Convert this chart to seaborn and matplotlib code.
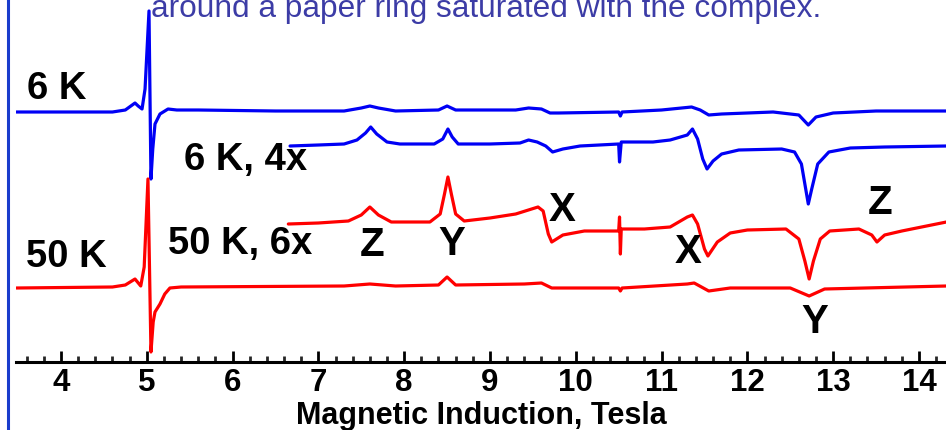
import numpy as np
import pandas as pd
import matplotlib
matplotlib.use("Agg")
import matplotlib.pyplot as plt
import seaborn as sns
from matplotlib.lines import Line2D

# field (Tesla) and signal (arb. units, relative to each baseline)
b_6k = [3.48, 4.6, 4.75, 4.863, 4.9, 4.945, 4.98, 5.026, 5.049, 5.07, 5.096, 5.154, 5.248, 5.35,
        5.6, 6.5, 7.3, 7.5, 7.6, 7.7, 7.9, 8.4, 8.5, 8.6, 9.3, 9.45, 9.6, 9.7, 9.8, 10.5, 10.52,
        10.54, 11.0, 11.35, 11.45, 11.55, 11.7, 12.3, 12.6, 12.71, 12.8, 13.0, 13.5, 14.32]
s_6k = [0, 0, 2, 9, 6, 3, 23, 101, -67, -37, -12, -2, 3, 2,
        2, 1, 1, 4, 6, 4, 1, 2, 6, 2, 2, 4, 3, -1, -1, 0, -4,
        0, 2, 5, 2, -3, -2, 0, -3, -13, -5, -1, 1, 1]

b_6k4x = [6.67, 7.0, 7.3, 7.45, 7.55, 7.61, 7.68, 7.8, 7.95, 8.35, 8.45, 8.51, 8.56, 8.63, 9.0,
          9.35, 9.45, 9.55, 9.65, 9.73, 9.85, 10.05, 10.5, 10.51, 10.53, 10.9, 11.1, 11.3, 11.36,
          11.42, 11.48, 11.53, 11.6, 11.7, 11.9, 12.4, 12.55, 12.63, 12.68, 12.71, 12.75, 12.82,
          12.95, 13.2, 13.6, 14.32]
s_6k4x = [0, 1, 2, 6, 13, 19, 12, 4, 2, 2, 7, 17, 9, 2, 2,
          3, 6, 4, 0, -6, -3, 0, 2, -16, 4, 4, 6, 11, 17,
          7, -13, -23, -15, -8, -4, -3, -6, -18, -43, -58, -43, -18,
          -6, -2, -1, 0]

b_50k6x = [6.65, 7.0, 7.35, 7.5, 7.6, 7.7, 7.85, 8.3, 8.42, 8.47, 8.51, 8.55, 8.6, 8.7, 9.0,
           9.3, 9.56, 9.62, 9.68, 9.72, 9.85, 10.1, 10.5, 10.51, 10.52, 10.53, 10.8, 11.1, 11.3,
           11.36, 11.42, 11.5, 11.54, 11.65, 11.8, 12.0, 12.45, 12.6, 12.67, 12.72, 12.77, 12.85,
           12.96, 13.3, 13.45, 13.51, 13.6, 13.8, 14.32]
s_50k6x = [0, 1, 3, 9, 17, 9, 2, 2, 10, 30, 47, 30, 10, 3, 6,
           10, 17, 13, -10, -18, -11, -7, -7, 7, -30, -5, -5, -3, 7,
           9, 0, -25, -32, -18, -9, -6, -5, -15, -37, -55, -37, -15,
           -7, -5, -11, -18, -11, -7, 2]

b_50k = [3.48, 4.6, 4.75, 4.863, 4.93, 4.97, 5.014, 5.049, 5.075, 5.096, 5.154, 5.21, 5.27,
         5.4, 7.3, 7.6, 7.9, 8.4, 8.5, 8.6, 9.4, 9.6, 9.72, 10.5, 10.52, 10.54, 11.3, 11.38,
         11.55, 11.8, 12.5, 12.72, 12.9, 14.32]
s_50k = [-1, 0, 2, 8, 1, 20, 108, -65, -35, -25, -17, -7, -1,
         0, 1, 3, 1, 2, 10, 2, 3, 4, -1, -1, -4, -1, 3, 4,
         -4, -1, -1, -9, -2, 1]

offsets = {"6 K": 250, "6 K, 4x": 216, "50 K, 6x": 138, "50 K": 75}

traces = pd.concat([
    pd.DataFrame({"B": b_6k, "y": np.array(s_6k) + offsets["6 K"], "trace": "6 K"}),
    pd.DataFrame({"B": b_6k4x, "y": np.array(s_6k4x) + offsets["6 K, 4x"], "trace": "6 K, 4x"}),
    pd.DataFrame({"B": b_50k6x, "y": np.array(s_50k6x) + offsets["50 K, 6x"], "trace": "50 K, 6x"}),
    pd.DataFrame({"B": b_50k, "y": np.array(s_50k) + offsets["50 K"], "trace": "50 K"}),
])
colors = {"6 K": "#0000f5", "6 K, 4x": "#0000f5", "50 K, 6x": "#ff0000", "50 K": "#ff0000"}

sns.set_style("ticks")
plt.rcParams["font.family"] = ["Liberation Sans", "DejaVu Sans"]

fig = plt.figure(figsize=(9.46, 4.31), dpi=100)
ax = fig.add_axes([16 / 946, 68 / 431, 930 / 946, 363 / 431])

for name in ["6 K", "6 K, 4x", "50 K", "50 K, 6x"]:
    d = traces[traces.trace == name]
    sns.lineplot(data=d, x="B", y="y", color=colors[name], linewidth=2.3,
                 estimator=None, sort=False, ax=ax)

ax.set_xlim(3.476, 14.315)
ax.set_ylim(0, 363)
for s in ["left", "top", "right"]:
    ax.spines[s].set_visible(False)
ax.spines["bottom"].set_linewidth(2.2)
ax.spines["bottom"].set_color("black")
ax.set_yticks([])
ax.set_xticks(range(4, 15))
ax.set_xticks(np.arange(3.6, 14.4, 0.2), minor=True)
ax.tick_params(axis="x", which="major", direction="in", length=8, width=2, pad=3.5,
               labelsize=22.5, colors="black")
ax.tick_params(axis="x", which="minor", direction="in", length=4.5, width=2)
for t in ax.get_xticklabels():
    t.set_fontweight("bold")
ax.set_xlabel("Magnetic Induction, Tesla", fontsize=22, fontweight="bold", labelpad=2,
              color="black")
ax.set_ylabel("")


def bx(px):
    return 3.476 + (px - 16) / 85.8


def by(py):
    return 363 - py


lab = dict(fontsize=27.5, fontweight="bold", color="black")
ax.text(bx(27), by(89), "6 K", ha="left", va="center", **lab)
ax.text(bx(184), by(160), "6 K, 4x", ha="left", va="center", **lab)
ax.text(bx(26), by(257), "50 K", ha="left", va="center", **lab)
ax.text(bx(168), by(244), "50 K, 6x", ha="left", va="center", **lab)

peaks = [("Z", 7.63, 245), ("Y", 8.56, 244), ("X", 9.84, 210),
         ("X", 11.31, 252), ("Z", 13.55, 203), ("Y", 12.78, 322)]
for letter, bpos, ypx in peaks:
    ax.text(bpos, by(ypx), letter, ha="center", va="center", fontsize=29,
            fontweight="bold", color="black")

fig.text(486 / 946, 1 - 16.5 / 431, "around a paper ring saturated with the complex.",
         ha="center", va="baseline", fontsize=22.8, color="#3c3ca6")
fig.add_artist(Line2D([8 / 946, 8 / 946], [0, 1], color="#1a3ccc", linewidth=2.2,
                      transform=fig.transFigure))

fig.savefig("out.png", dpi=100)
